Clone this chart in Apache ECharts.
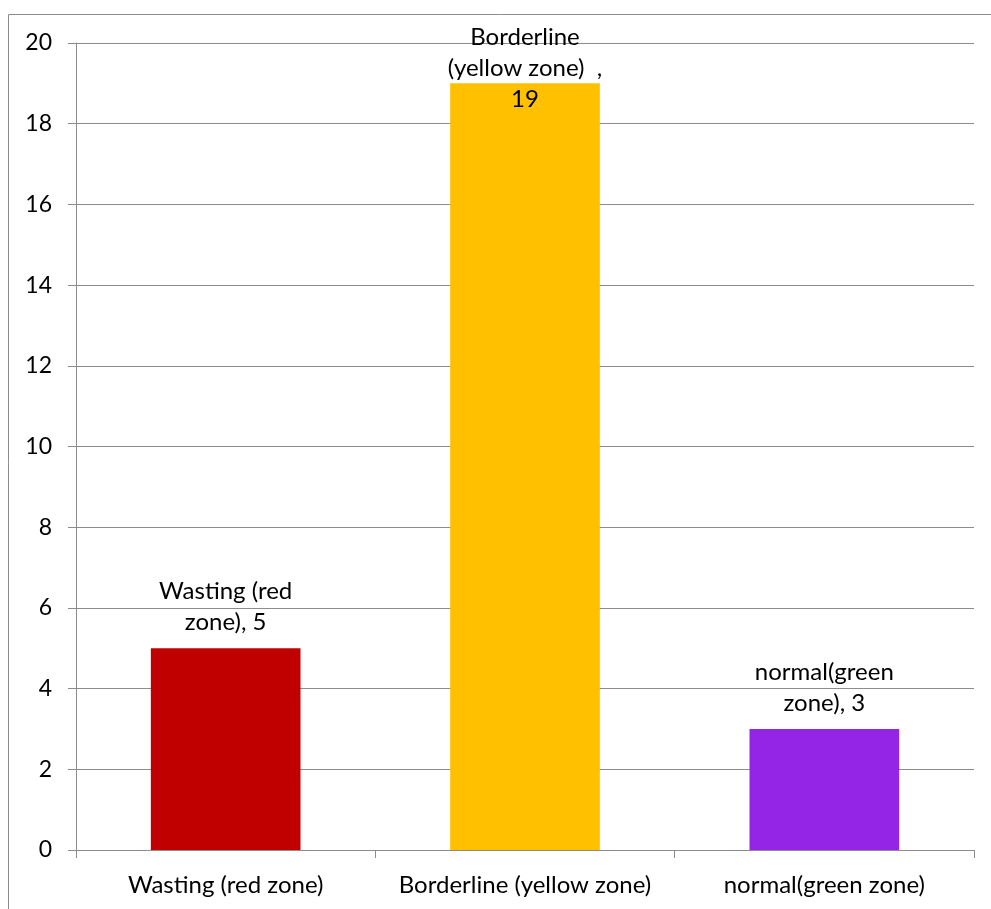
<!DOCTYPE html>
<html><head><meta charset="utf-8">
<script src="https://cdn.jsdelivr.net/npm/echarts@6/dist/echarts.min.js"></script>
<style>html,body{margin:0;padding:0;background:#fff}#c{width:991px;height:909px}</style>
</head><body><div id="c"></div>
<script>
const categories = ['Wasting (red zone)', 'Borderline (yellow zone)', 'normal(green zone)'];
const values = [5, 19, 3];
const barLabels = ['Wasting (red\nzone), 5', 'Borderline\n(yellow zone)  ,\n19', 'normal(green\nzone), 3'];
const colors = ['#C00000', '#FFC000', '#9425E6'];
const yTicks = [0, 2, 4, 6, 8, 10, 12, 14, 16, 18, 20];

const FONT = 'Lato, "Open Sans", sans-serif';
const chart = echarts.init(document.getElementById('c'), null, {renderer: 'canvas'});
const gridColor = '#8c8c8c';
chart.setOption({
  animation: false,
  graphic: [{type: 'rect', shape: {x: 8.5, y: 14.5, width: 1000, height: 1000}, style: {fill: 'none', stroke: '#8c8c8c', lineWidth: 1}, z: -10}],
  grid: {left: 76, right: 17, top: 43, bottom: 59},
  xAxis: {
    type: 'category', data: categories,
    axisLine: {lineStyle: {color: gridColor, width: 1}},
    axisTick: {show: true, length: 8, lineStyle: {color: gridColor}},
    axisLabel: {color: '#000', fontFamily: FONT, fontSize: 24, margin: 23, interval: 0, hideOverlap: false}
  },
  yAxis: {
    type: 'value', min: yTicks[0], max: yTicks[yTicks.length - 1], interval: 2,
    axisLine: {show: true, lineStyle: {color: gridColor, width: 1}},
    axisTick: {show: true, length: 8, lineStyle: {color: gridColor}},
    splitLine: {lineStyle: {color: gridColor, width: 1}},
    axisLabel: {color: '#000', fontFamily: FONT, fontSize: 23, margin: 24}
  },
  series: [{
    type: 'bar', barWidth: '50%',
    data: values.map((v, i) => ({
      value: v,
      itemStyle: {color: colors[i]},
      label: {
        show: true, position: 'top', formatter: barLabels[i],
        distance: i === 1 ? -31 : 10,
        color: '#000', fontFamily: FONT, fontSize: 24, lineHeight: 31, align: 'center'
      }
    }))
  }]
});
</script></body></html>
